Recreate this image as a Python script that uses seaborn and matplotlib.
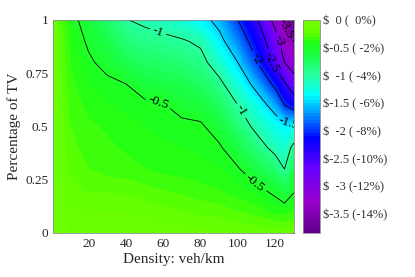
import numpy as np
import matplotlib
matplotlib.use("Agg")
import matplotlib.pyplot as plt
from matplotlib.colors import LinearSegmentedColormap
import seaborn as sns

# density (veh/km) and share of TV on the grid
density = [1, 10, 20, 30, 40, 50, 60, 70, 80, 90, 100, 110, 120, 125, 130]
tv_share = [0, 0.1, 0.2, 0.3, 0.4, 0.5, 0.6, 0.7, 0.8, 0.9, 1.0]

# saving in $ , one row per density value, from tv_share 0 up to 1
savings = np.array([
    [-0.10, -0.11, -0.12, -0.12, -0.13, -0.13, -0.14, -0.14, -0.15, -0.16, -0.18],
    [-0.12, -0.17, -0.22, -0.26, -0.28, -0.30, -0.32, -0.34, -0.36, -0.38, -0.42],
    [-0.12, -0.18, -0.25, -0.30, -0.33, -0.35, -0.38, -0.42, -0.47, -0.53, -0.60],
    [-0.12, -0.18, -0.25, -0.33, -0.35, -0.37, -0.41, -0.46, -0.56, -0.66, -0.78],
    [-0.12, -0.18, -0.26, -0.34, -0.37, -0.40, -0.44, -0.50, -0.68, -0.83, -0.99],
    [-0.13, -0.20, -0.28, -0.36, -0.39, -0.42, -0.46, -0.60, -0.75, -0.90, -1.05],
    [-0.14, -0.22, -0.30, -0.38, -0.41, -0.44, -0.49, -0.64, -0.78, -0.93, -1.12],
    [-0.15, -0.24, -0.32, -0.39, -0.42, -0.46, -0.56, -0.68, -0.82, -0.97, -1.22],
    [-0.16, -0.26, -0.34, -0.40, -0.43, -0.47, -0.60, -0.75, -0.90, -1.05, -1.38],
    [-0.17, -0.27, -0.36, -0.42, -0.47, -0.60, -0.75, -0.92, -1.17, -1.40, -1.60],
    [-0.18, -0.30, -0.40, -0.48, -0.65, -0.82, -1.00, -1.25, -1.50, -1.75, -2.00],
    [-0.20, -0.33, -0.45, -0.65, -0.85, -1.08, -1.30, -1.62, -1.97, -2.20, -2.45],
    [-0.20, -0.38, -0.55, -0.80, -1.10, -1.30, -1.65, -2.10, -2.60, -2.80, -3.15],
    [-0.20, -0.40, -0.65, -1.00, -1.20, -1.40, -2.00, -2.45, -3.00, -3.25, -3.60],
    [-0.20, -0.35, -0.52, -0.70, -0.90, -1.35, -2.20, -2.80, -3.20, -3.50, -3.83],
])

contour_levels = [-3.5, -3, -2.5, -2, -1.5, -1, -0.5]
cbar_ticks = [0, -0.5, -1, -1.5, -2, -2.5, -3, -3.5]
cbar_labels = ["$  0 (  0%)", "$-0.5 ( -2%)", "$  -1 ( -4%)", "$-1.5 ( -6%)",
               "$  -2 ( -8%)", "$-2.5 (-10%)", "$  -3 (-12%)", "$-3.5 (-14%)"]

vmin, vmax = -3.85, 0.0

sns.set_style("white")
plt.rcParams['font.family'] = ['Liberation Serif', 'DejaVu Serif']

# colormap: lime -> green -> cyan -> blue -> purple
nodes = [(-3.85, (0.38, 0.0, 0.55)),
         (-3.3, (0.60, 0.0, 0.80)),
         (-2.7, (0.40, 0.0, 1.00)),
         (-2.15, (0.0, 0.0, 1.00)),
         (-1.8, (0.0, 0.45, 1.00)),
         (-1.35, (0.0, 1.0, 1.00)),
         (-1.0, (0.15, 1.0, 0.65)),
         (-0.6, (0.10, 1.0, 0.25)),
         (-0.38, (0.12, 1.0, 0.08)),
         (-0.22, (0.38, 1.0, 0.0)),
         (0.0, (0.45, 1.0, 0.0))]
cmap = LinearSegmentedColormap.from_list(
    "sav", [((v - vmin) / (vmax - vmin), c) for v, c in nodes], N=64)

X, Y = np.meshgrid(density, tv_share)
Z = savings.T

fig = plt.figure(figsize=(4.15, 2.77), dpi=100)
ax = fig.add_axes([0.128, 0.159, 0.580, 0.769])
cax = fig.add_axes([0.730, 0.159, 0.041, 0.769])

cf = ax.contourf(X, Y, Z, levels=np.linspace(vmin, vmax, 65), cmap=cmap,
                 vmin=vmin, vmax=vmax)
cs = ax.contour(X, Y, Z, levels=contour_levels, colors='k',
                linewidths=0.6, linestyles='solid')
label_spots = [(57, 0.94), (101, 0.57), (58, 0.63), (109, 0.23),
               (127, 0.52), (110, 0.82), (117, 0.80), (121, 0.9), (126, 0.96)]
ax.clabel(cs, fmt='%g', fontsize=9.5, inline=True, inline_spacing=3,
          manual=label_spots)

ax.set_xlim(1, 130)
ax.set_ylim(0, 1)
ax.set_xticks([20, 40, 60, 80, 100, 120])
ax.set_yticks([0, 0.25, 0.5, 0.75, 1])
ax.set_yticklabels(["0", "0.25", "0.5", "0.75", "1"])
ax.tick_params(direction='in', length=3, width=0.5, labelsize=9.5,
               top=True, right=True, colors='0.35', labelcolor='0.15')
ax.set_xlabel("Density: veh/km", fontsize=11, color='0.15', labelpad=2)
ax.set_ylabel("Percentage of TV", fontsize=11, color='0.15', labelpad=3)
for s in ax.spines.values():
    s.set_color('0.55')
    s.set_linewidth(0.6)

cb = fig.colorbar(cf, cax=cax)
cb.set_ticks(cbar_ticks)
cb.set_ticklabels(cbar_labels)
cb.ax.tick_params(direction='in', length=2.5, width=0.5, labelsize=9,
                  colors='0.35', labelcolor='0.2', pad=2)
cb.outline.set_edgecolor('0.55')
cb.outline.set_linewidth(0.6)
cax.set_ylim(vmin, vmax)

fig.savefig("out.png", dpi=100)
